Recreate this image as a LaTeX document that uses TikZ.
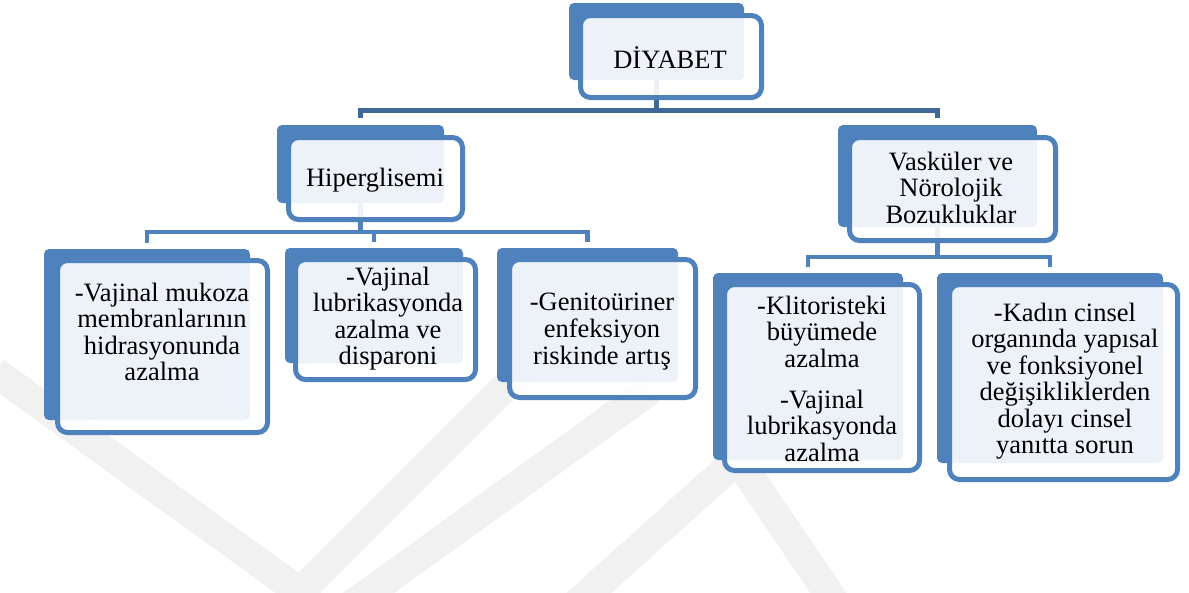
\documentclass[tikz,border=0pt]{standalone}
\usepackage{fontspec}
\setmainfont{Liberation Serif}
\usetikzlibrary{calc}
\definecolor{accent}{HTML}{4F81BD}
\definecolor{topline}{HTML}{3F6797}
\definecolor{wmgray}{HTML}{F1F1F1}

\begin{document}
\begin{tikzpicture}[x=1pt,y=-1pt,
  backbox/.style={fill=accent, rounded corners=5pt, inner sep=0pt, outer sep=0pt, anchor=north west},
  frontbox/.style={draw=accent, line width=5pt, fill=white, fill opacity=0.9, draw opacity=1,
                   rounded corners=10pt, inner sep=0pt, outer sep=0pt, anchor=north west},
  label/.style={inner sep=0pt, align=center, anchor=north, text=black,
                font=\fontsize{26.5pt}{26.5pt}\selectfont},
  link/.style={draw=accent, line width=4.5pt},
  toplink/.style={draw=topline, line width=5pt},
  emblem/.style={draw=wmgray, line width=30pt, line join=miter}]

\useasboundingbox (0,0) rectangle (1189,592);

% faint emblem in the background
\draw[emblem] (-5,372) -- (300,592) -- (560,332);
\draw[emblem] (345,610) -- (650,390);
\draw[emblem] (570,610) -- (770,430);
\draw[emblem] (745,470) -- (840,610);

% back plates
\node[backbox, minimum width=175pt, minimum height=77pt]  (dB) at (569,3) {};
\node[backbox, minimum width=167pt, minimum height=78pt]  (hB) at (277,125) {};
\node[backbox, minimum width=199pt, minimum height=102pt] (vB) at (838,125) {};
\node[backbox, minimum width=206pt, minimum height=171pt] (aB) at (44,249) {};
\node[backbox, minimum width=178pt, minimum height=115pt] (bB) at (285,248) {};
\node[backbox, minimum width=181pt, minimum height=134pt] (cB) at (497,248) {};
\node[backbox, minimum width=190pt, minimum height=187pt] (eB) at (713,273) {};
\node[backbox, minimum width=226pt, minimum height=190pt] (fB) at (937,273) {};

% junctions of the tree
\coordinate (j1) at ([yshift=-30pt]dB.south);
\coordinate (j2) at ([yshift=-29pt]hB.south);
\coordinate (j3) at ([yshift=-30pt]vB.south);

% connectors
\draw[toplink] (dB.south) -- (j1);
\draw[toplink] ([yshift=7pt]hB.north) |- (j1) -| ([yshift=7pt]vB.north);
\draw[link] (hB.south) -- (j2);
\draw[link] ([yshift=6pt]aB.north) |- (j2) -| ([yshift=6pt]cB.north);
\draw[link] ([yshift=6pt]bB.north) -- (bB.north |- j2);
\draw[link] (vB.south) -- (j3);
\draw[link] ([yshift=6pt]eB.north) |- (j3) -| ([yshift=6pt]fB.north);

% front frames
\node[frontbox, minimum width=181pt, minimum height=82pt]  (dF) at (580.5,15.5) {};
\node[frontbox, minimum width=174pt, minimum height=82pt]  (hF) at (288.5,137.5) {};
\node[frontbox, minimum width=206pt, minimum height=103pt] (vF) at (849.5,137.5) {};
\node[frontbox, minimum width=210pt, minimum height=172pt] (aF) at (57.5,260.5) {};
\node[frontbox, minimum width=180pt, minimum height=120pt] (bF) at (295.5,259.5) {};
\node[frontbox, minimum width=186pt, minimum height=138pt] (cF) at (509.5,259.5) {};
\node[frontbox, minimum width=195pt, minimum height=186pt] (eF) at (724.5,284.5) {};
\node[frontbox, minimum width=228pt, minimum height=195pt] (fF) at (949.5,284.5) {};

% texts
\node[label] (dT) at (670,46.5)  {\strut DİYABET};
\node[label] (hT) at (375,167.5) {\strut Hiperglisemi};
\node[label] (vT) at (951,151.5) {\strut Vasküler ve\\Nörolojik\\Bozukluklar};
\node[label] (aT) at (162,282.5) {\strut -Vajinal mukoza\\membranlarının\\hidrasyonunda\\azalma};
\node[label] (bT) at (388,266.5) {\strut -Vajinal\\lubrikasyonda\\azalma ve\\disparoni};
\node[label] (cT) at (602,291.5) {\strut -Genitoüriner\\enfeksiyon\\riskinde artış};
\node[label] (eT) at (822,295.5) {\strut -Klitoristeki\\büyümede\\azalma\\[14.5pt]-Vajinal\\lubrikasyonda\\azalma};
\node[label] (fT) at (1065,302.5) {\strut -Kadın cinsel\\organında yapısal\\ve fonksiyonel\\değişikliklerden\\dolayı cinsel\\yanıtta sorun};
\end{tikzpicture}
\end{document}
